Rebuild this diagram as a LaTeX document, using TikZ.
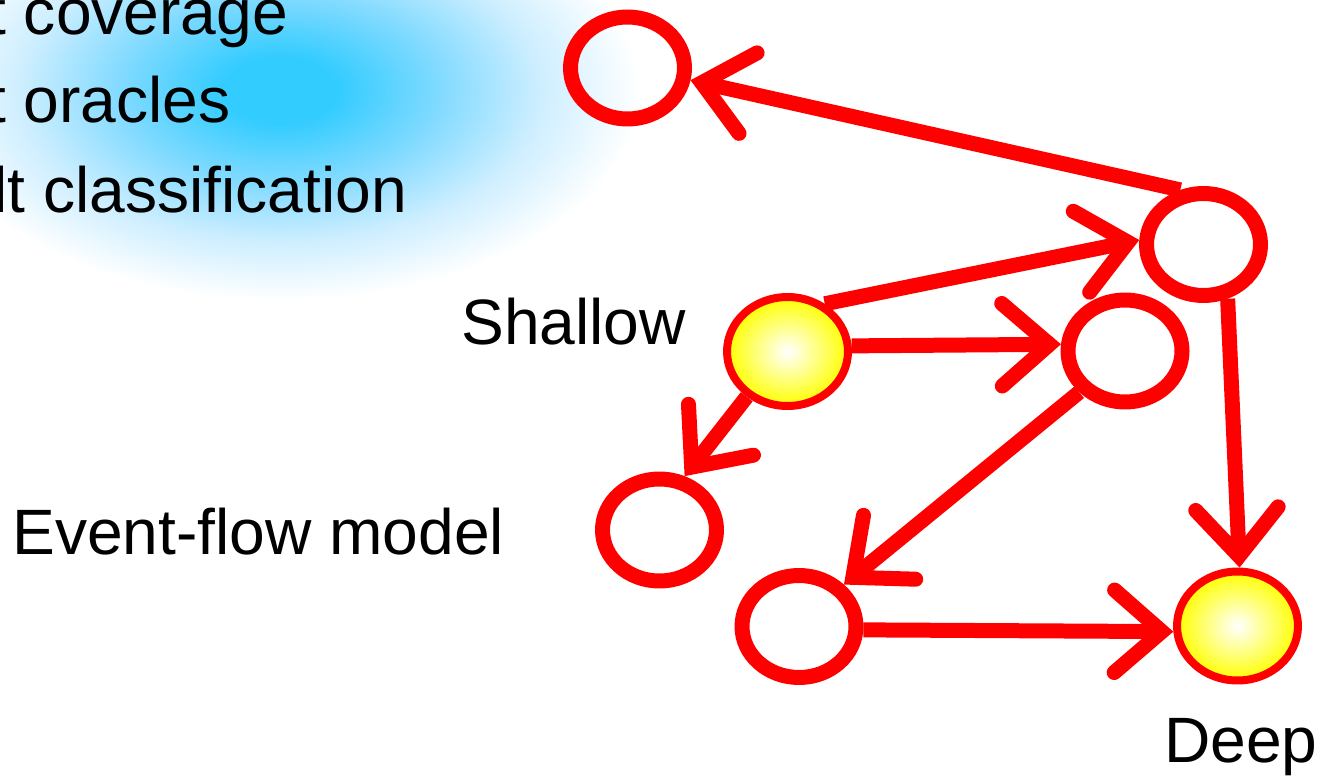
\documentclass[tikz,border=0pt]{standalone}
\usepackage{fontspec}
\setmainfont{Liberation Sans}
\usetikzlibrary{shapes.geometric,arrows.meta}
\definecolor{skyc}{RGB}{51,204,255}
\definecolor{skym}{RGB}{128,218,255}
\definecolor{skyl}{RGB}{205,238,255}
\pgfdeclareradialshading{blob}{\pgfpointorigin}{color(0bp)=(skyc); color(4bp)=(skyc); color(11bp)=(skym); color(18bp)=(skyl); color(25bp)=(white); color(50bp)=(white)}
\begin{document}
\begin{tikzpicture}[x=0.02cm,y=-0.02cm,
  ringnode/.style={ellipse, draw=red, line width=0.3cm, minimum width=2.28cm, minimum height=2.04cm, inner sep=0pt},
  hotnode/.style={ellipse, draw=red, line width=0.16cm, minimum width=2.42cm, minimum height=2.18cm, inner sep=0pt, inner color=white, outer color=yellow},
  link/.style={draw=red, line width=0.3cm, -{Straight Barb[length=0.95cm, width=1.65cm, line cap=round, line join=miter]}},
  lbl/.style={inner sep=0pt, anchor=base west, font=\fontsize{36.5}{44}\selectfont}]
\useasboundingbox (0,0) rectangle (1325,776);
\clip (0,0) rectangle (1325,776);
\shade[shading=blob] (-80,-120) rectangle (640,300);

\node[lbl] (t1) at (-12,35) {t coverage};
\node[lbl] (t2) at (-12,123) {t oracles};
\node[lbl] (t3) at (-7,213) {lt classification};

\node[ringnode] (A) at (627.5,68) {};
\node[ringnode] (B) at (1203.5,244.5) {};
\node[hotnode] (S) at (787.5,351.5) {};
\node[ringnode] (C) at (1125,351) {};
\node[ringnode] (D) at (659.5,530) {};
\node[ringnode] (E) at (799,626.5) {};
\node[hotnode] (F) at (1237.5,626) {};

\node[lbl] (shallow) at (461,345) {Shallow};
\node[lbl] (efm) at (12,555) {Event-flow model};
\node[lbl] (deep) at (1164,762) {Deep};

\draw[link] (B.113) -- (A.-11);
\draw[link] (S.52) -- (B.176);
\draw[link] (S.5) -- (C.174);
\draw[link] (S.228) -- (D.65);
\draw[link] (B.-66) -- (F.88);
\draw[link] (C.222) -- (E.43);
\draw[link] (E.-3) -- (F.185);
\end{tikzpicture}
\end{document}
